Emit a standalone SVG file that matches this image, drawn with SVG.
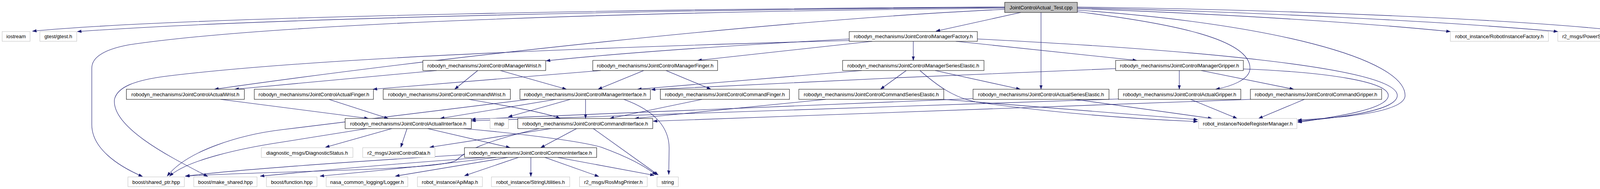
<svg xmlns="http://www.w3.org/2000/svg" width="4276" height="485" viewBox="0 0 4276 485">
<style>
.b rect{fill:#ffffff;stroke:#000000;stroke-width:1}
.g rect{fill:#ffffff;stroke:#bfbfbf;stroke-width:1}
.r rect{fill:#bfbfbf;stroke:#000000;stroke-width:1}
text{font-family:"Liberation Sans",Arial,sans-serif;font-size:13px;fill:#000000;text-anchor:middle}
#edges path{fill:none;stroke:#191970;stroke-width:1.1;marker-end:url(#ah)}
</style>
<defs>
<marker id="ah" markerUnits="userSpaceOnUse" markerWidth="11" markerHeight="8" refX="10.5" refY="3.75" orient="auto">
<path d="M0,0 L10.5,3.75 L0,7.5 z" fill="#191970" stroke="#191970" stroke-width="0.5"/>
</marker>
</defs>
<rect x="0" y="0" width="4276" height="485" fill="#ffffff"/>
<g id="edges">
<path d="M2572,18 C1800,22 500,40 83,80"/>
<path d="M2572,19 C1800,24 700,45 198,81"/>
<path d="M2572,21 C1600,30 700,60 330,115 C260,128 235,150 235,175 L235,320 C235,380 300,425 365,453"/>
<path d="M2572,24 C2000,50 1100,150 549,229"/>
<path d="M2613,32 L2396,80"/>
<path d="M2665,32 L2665,229"/>
<path d="M2758,30 C3000,60 3200,100 3200,175 C3200,205 3150,222 3112,229"/>
<path d="M2758,26 C3250,60 3597,150 3597,245 C3597,290 3420,303 3322,308"/>
<path d="M2758,22 C3100,35 3450,55 3713,81"/>
<path d="M2758,20 C3200,30 3700,55 3988,81"/>
<path d="M2758,18 C3300,25 3900,50 4166,81"/>
<path d="M2174,100 C1900,115 1600,135 1398,156"/>
<path d="M2233,106 L1786,155"/>
<path d="M2338,106 L2338,155"/>
<path d="M2447,106 L2910,155"/>
<path d="M2502,100 C3000,125 3577,170 3577,245 C3577,285 3420,303 3322,311"/>
<path d="M2174,104 C1500,122 800,150 430,195 C340,206 300,225 293,255 C285,330 450,410 532,453"/>
<path d="M1118,181 L601,229"/>
<path d="M1223,181 L1164,229"/>
<path d="M1281,181 L1450,229"/>
<path d="M1538,181 L955,229"/>
<path d="M1648,181 L1531,229"/>
<path d="M1705,181 L1820,229"/>
<path d="M2206,181 C2000,200 1800,215 1632,229"/>
<path d="M2320,181 L2254,229"/>
<path d="M2394,181 L2612,229"/>
<path d="M2355,181 C2400,220 2440,250 2500,262 C2700,290 2900,305 3066,312"/>
<path d="M2856,176 C2500,190 2000,212 1667,230"/>
<path d="M3019,181 L3019,229"/>
<path d="M3075,181 L3312,229"/>
<path d="M3183,177 C3400,185 3554,210 3554,245 C3554,280 3420,300 3322,314"/>
<path d="M565,255 L943,304"/>
<path d="M842,255 L994,304"/>
<path d="M1200,255 C1300,272 1400,290 1434,304"/>
<path d="M1423,255 L1127,304"/>
<path d="M1460,255 L1301,300"/>
<path d="M1499,255 L1499,304"/>
<path d="M1597,255 C1680,285 1713,330 1713,380 L1712,448"/>
<path d="M1354,255 L720,333 C620,345 480,385 428,452"/>
<path d="M1797,255 L1561,304"/>
<path d="M2114,255 L1625,304"/>
<path d="M2416,255 L3066,307"/>
<path d="M2491,253 L1207,306"/>
<path d="M2752,255 L3103,304"/>
<path d="M3048,255 L3167,304"/>
<path d="M2863,254 L1207,310"/>
<path d="M3339,255 L3222,304"/>
<path d="M3201,255 L1672,311"/>
<path d="M1476,330 L1384,379"/>
<path d="M1519,330 L1685,449"/>
<path d="M1410,330 L1100,378"/>
<path d="M1380,330 C1230,365 1190,390 1170,410 C1140,438 700,438 474,452"/>
<path d="M939,330 L720,365 C620,380 480,410 434,452"/>
<path d="M1003,330 L833,378"/>
<path d="M1042,330 L1026,378"/>
<path d="M1095,330 L1306,379"/>
<path d="M1187,330 C1300,340 1480,360 1540,378 C1600,400 1650,425 1680,449"/>
<path d="M1189,397 C900,415 600,435 475,452"/>
<path d="M1242,404 C1000,420 800,440 666,452"/>
<path d="M1270,404 C1100,425 950,440 819,452"/>
<path d="M1300,404 L1012,452"/>
<path d="M1327,404 L1189,451"/>
<path d="M1359,404 L1359,453"/>
<path d="M1395,404 L1533,453"/>
<path d="M1428,404 L1675,450"/>
</g>
<g id="n_root" class="r"><rect x="2572" y="6" width="186" height="26"/><text x="2665" y="23.5">JointControlActual_Test.cpp</text></g>
<g id="n_iostream" class="g"><rect x="5.5" y="81" width="71.5" height="25"/><text x="41.25" y="98">iostream</text></g>
<g id="n_gtest" class="g"><rect x="102" y="81" width="94.5" height="25"/><text x="149.25" y="98">gtest/gtest.h</text></g>
<g id="n_factory" class="b"><rect x="2174" y="81" width="328" height="25"/><text x="2338" y="98">robodyn_mechanisms/JointControlManagerFactory.h</text></g>
<g id="n_rif" class="g"><rect x="3713" y="81" width="251" height="25"/><text x="3838.5" y="98">robot_instance/RobotInstanceFactory.h</text></g>
<g id="n_power" class="g"><rect x="3988" y="81" width="154.5" height="25"/><text x="4065.25" y="98">r2_msgs/PowerState.h</text></g>
<g id="n_ros" class="b"><rect x="4166.5" y="81" width="104" height="25"/><text x="4218.5" y="98">ros/package.h</text></g>
<g id="n_mwrist" class="b"><rect x="1082.5" y="155" width="314.5" height="26"/><text x="1239.75" y="172.5">robodyn_mechanisms/JointControlManagerWrist.h</text></g>
<g id="n_mfinger" class="b"><rect x="1517.5" y="155" width="319.5" height="26"/><text x="1677.25" y="172.5">robodyn_mechanisms/JointControlManagerFinger.h</text></g>
<g id="n_mse" class="b"><rect x="2157" y="155" width="362" height="26"/><text x="2338" y="172.5">robodyn_mechanisms/JointControlManagerSeriesElastic.h</text></g>
<g id="n_mgripper" class="b"><rect x="2856" y="155" width="327" height="26"/><text x="3019.5" y="172.5">robodyn_mechanisms/JointControlManagerGripper.h</text></g>
<g id="n_awrist" class="b"><rect x="323.5" y="229" width="302" height="26"/><text x="474.5" y="246.5">robodyn_mechanisms/JointControlActualWrist.h</text></g>
<g id="n_afinger" class="b"><rect x="651" y="229" width="305" height="26"/><text x="803.5" y="246.5">robodyn_mechanisms/JointControlActualFinger.h</text></g>
<g id="n_cwrist" class="b"><rect x="981" y="229" width="325.5" height="26"/><text x="1143.75" y="246.5">robodyn_mechanisms/JointControlCommandWrist.h</text></g>
<g id="n_minterface" class="b"><rect x="1331" y="229" width="334" height="26"/><text x="1498" y="246.5">robodyn_mechanisms/JointControlManagerInterface.h</text></g>
<g id="n_cfinger" class="b"><rect x="1690.5" y="229" width="330.5" height="26"/><text x="1855.75" y="246.5">robodyn_mechanisms/JointControlCommandFinger.h</text></g>
<g id="n_cse" class="b"><rect x="2045" y="229" width="371" height="26"/><text x="2230.5" y="246.5">robodyn_mechanisms/JointControlCommandSeriesElastic.h</text></g>
<g id="n_ase" class="b"><rect x="2491" y="229" width="348" height="26"/><text x="2665" y="246.5">robodyn_mechanisms/JointControlActualSeriesElastic.h</text></g>
<g id="n_agripper" class="b"><rect x="2863" y="229" width="313.5" height="26"/><text x="3019.75" y="246.5">robodyn_mechanisms/JointControlActualGripper.h</text></g>
<g id="n_cgripper" class="b"><rect x="3201" y="229" width="336" height="26"/><text x="3369" y="246.5">robodyn_mechanisms/JointControlCommandGripper.h</text></g>
<g id="n_ainterface" class="b"><rect x="883.5" y="304" width="323" height="26"/><text x="1045" y="321.5">robodyn_mechanisms/JointControlActualInterface.h</text></g>
<g id="n_map" class="g"><rect x="1254.5" y="304" width="47" height="26"/><text x="1278" y="321.5">map</text></g>
<g id="n_cinterface" class="b"><rect x="1325.5" y="304" width="345.5" height="26"/><text x="1498.25" y="321.5">robodyn_mechanisms/JointControlCommandInterface.h</text></g>
<g id="n_nrm" class="g"><rect x="3068.5" y="304" width="251.5" height="26"/><text x="3194.25" y="321.5">robot_instance/NodeRegisterManager.h</text></g>
<g id="n_diag" class="g"><rect x="669" y="379" width="234.5" height="25"/><text x="786.25" y="396.5">diagnostic_msgs/DiagnosticStatus.h</text></g>
<g id="n_jcdata" class="g"><rect x="928.5" y="379" width="185" height="25"/><text x="1021" y="396.5">r2_msgs/JointControlData.h</text></g>
<g id="n_common" class="b"><rect x="1189" y="379" width="338.5" height="25"/><text x="1358.25" y="396.5">robodyn_mechanisms/JointControlCommonInterface.h</text></g>
<g id="n_sharedptr" class="g"><rect x="327.5" y="454" width="144.5" height="25"/><text x="399.75" y="471.5">boost/shared_ptr.hpp</text></g>
<g id="n_makeshared" class="g"><rect x="496" y="454" width="162" height="25"/><text x="577" y="471.5">boost/make_shared.hpp</text></g>
<g id="n_function" class="g"><rect x="682" y="454" width="129.5" height="25"/><text x="746.75" y="471.5">boost/function.hpp</text></g>
<g id="n_logger" class="g"><rect x="835" y="454" width="209" height="25"/><text x="939.5" y="471.5">nasa_common_logging/Logger.h</text></g>
<g id="n_apimap" class="g"><rect x="1068.5" y="454" width="166.5" height="25"/><text x="1151.75" y="471.5">robot_instance/ApiMap.h</text></g>
<g id="n_strutil" class="g"><rect x="1258" y="454" width="200.5" height="25"/><text x="1358.25" y="471.5">robot_instance/StringUtilities.h</text></g>
<g id="n_rosmsg" class="g"><rect x="1483.5" y="454" width="173.5" height="25"/><text x="1570.25" y="471.5">r2_msgs/RosMsgPrinter.h</text></g>
<g id="n_string" class="g"><rect x="1682" y="454" width="54.5" height="25"/><text x="1709.25" y="471.5">string</text></g>
</svg>
